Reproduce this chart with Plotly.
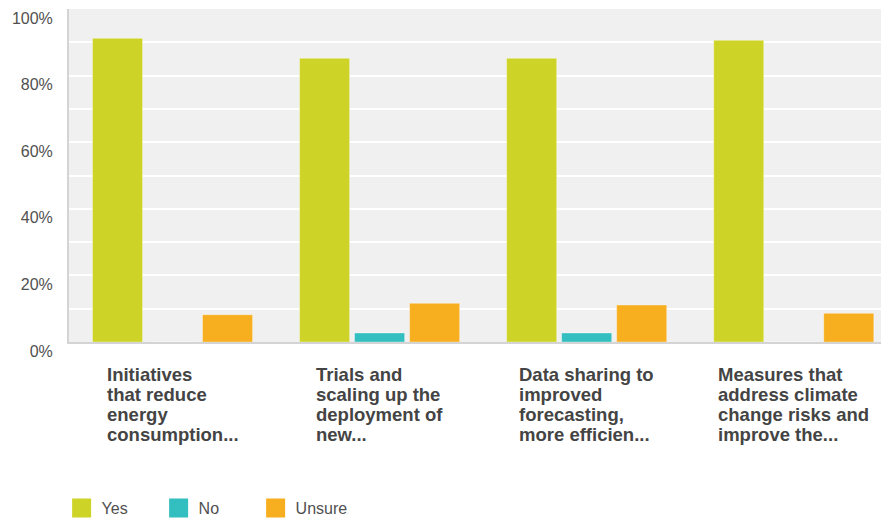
import plotly.graph_objects as go

categories = [
    ["Initiatives", "that reduce", "energy", "consumption..."],
    ["Trials and", "scaling up the", "deployment of", "new..."],
    ["Data sharing to", "improved", "forecasting,", "more efficien..."],
    ["Measures that", "address climate", "change risks and", "improve the..."],
]
series_names = ["Yes", "No", "Unsure"]
yes_values = [91.2, 85.2, 85.2, 90.6]
no_values = [0, 2.7, 2.7, 0]
unsure_values = [8.2, 11.6, 11.1, 8.6]
tick_values = [0, 20, 40, 60, 80, 100]
tick_labels = ["0%", "20%", "40%", "60%", "80%", "100%"]

colors = ["#ced427", "#33bec0", "#f7ae1f"]
cat_keys = [" ".join(c) for c in categories]

fig = go.Figure()
for name, vals, col in zip(series_names, [yes_values, no_values, unsure_values], colors):
    fig.add_trace(go.Bar(
        x=cat_keys, y=vals, name=name, showlegend=False,
        marker=dict(color=col, line=dict(color="rgba(255,255,255,0.35)", width=1)),
        hoverinfo="skip",
    ))
# legend entries with larger swatches
for name, col in zip(series_names, colors):
    fig.add_trace(go.Scatter(
        x=[None], y=[None], mode="markers", name=name,
        marker=dict(symbol="square", size=16, color=col, line=dict(color=col, width=3)),
    ))

for key, lines in zip(cat_keys, categories):
    fig.add_annotation(
        x=key, xref="x", y=0, yref="paper", yanchor="top", xanchor="center",
        yshift=-20, align="left", showarrow=False,
        text="<br>".join('<span style="font-size:18.5px">%s</span>' % l for l in lines),
        font=dict(family="Arial, Liberation Sans", size=15.4, color="#444444", weight="bold"),
    )

fig.update_layout(
    width=881, height=514,
    margin=dict(l=60.5, r=0, t=1, b=180, pad=0, autoexpand=False),
    paper_bgcolor="white", plot_bgcolor="#f0f0f0",
    barmode="group", bargap=0.203, bargroupgap=0.09,
    font=dict(family="Arial, Liberation Sans", color="#505050", size=16),
    showlegend=True,
    legend=dict(orientation="h", x=-0.009, xanchor="left", y=-0.4985, yanchor="middle",
                entrywidth=52, entrywidthmode="pixels", itemsizing="trace",
                font=dict(size=16, color="#505050"), traceorder="normal"),
    xaxis=dict(range=[-0.5, 3.46], showticklabels=False, showgrid=False, zeroline=False,
               showline=True, linecolor="#d4d4d4", linewidth=2, ticks="", automargin=False),
    yaxis=dict(range=[0, 100], tickvals=tick_values, ticktext=tick_labels,
               showgrid=True, gridcolor="white", gridwidth=1.5, zeroline=False,
               minor=dict(dtick=10, showgrid=True, gridcolor="white", gridwidth=1.5),
               showline=True, linecolor="#d4d4d4", linewidth=2, automargin=False,
               ticklabelstandoff=11, ticklabelshift=9, ticklabeloverflow="allow",
               tickfont=dict(size=16, color="#505050")),
)

fig.write_html("out.html")
